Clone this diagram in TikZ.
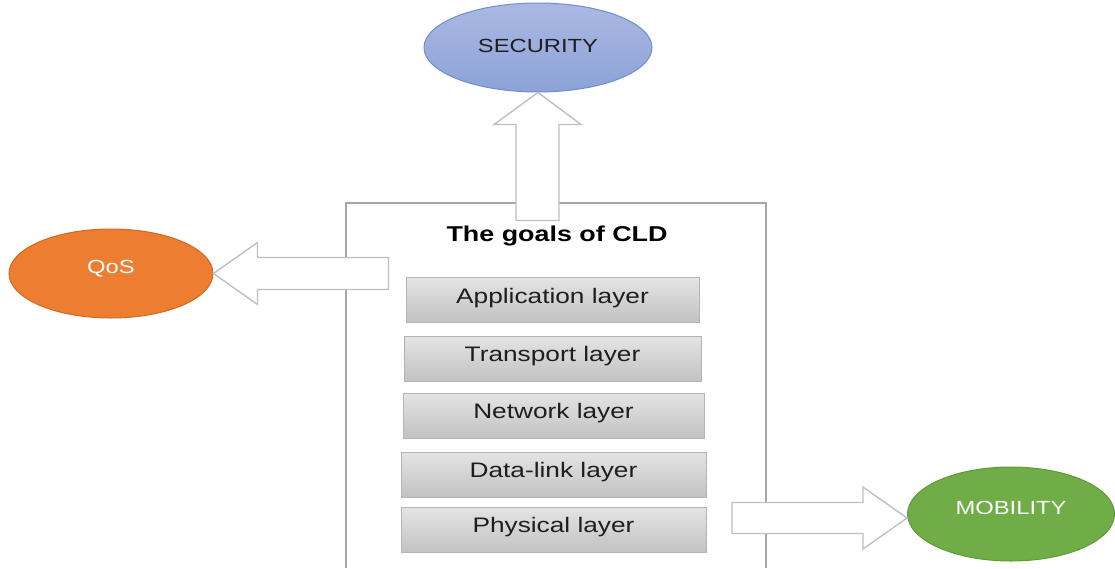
\documentclass[tikz,border=0pt]{standalone}
\usepackage{fontspec}
\setmainfont{Liberation Sans}[FakeStretch=1.25]
\usetikzlibrary{shapes.geometric,calc}
\definecolor{boxline}{HTML}{A6A6A6}
\definecolor{arrline}{HTML}{BFBFBF}
\definecolor{layline}{HTML}{B4B4B4}
\definecolor{laytop}{HTML}{E4E4E4}
\definecolor{laybot}{HTML}{C2C2C2}
\definecolor{sectop}{HTML}{AAB9E3}
\definecolor{secbot}{HTML}{8CA2D7}
\definecolor{secline}{HTML}{6F8ED0}
\definecolor{qosfill}{HTML}{ED7D31}
\definecolor{qosline}{HTML}{D2691F}
\definecolor{mobfill}{HTML}{70AD47}
\definecolor{mobline}{HTML}{5E9A3A}
\definecolor{txt}{HTML}{1E1E1E}
\begin{document}
\begin{tikzpicture}[x=1pt,y=-1pt,
  goal/.style={ellipse, inner sep=0pt, line width=1pt, text height=10pt, text depth=10pt,
    font=\fontsize{19}{22}\selectfont},
  layerbox/.style={rectangle, draw=layline, line width=1pt, top color=laytop, bottom color=laybot,
    inner sep=0pt, text height=14pt, text depth=8pt, text=txt, font=\fontsize{21}{25}\selectfont},
  fatarrow/.style={draw=arrline, fill=white, line width=1.4pt, line join=miter},
  frame/.style={draw=boxline, line width=1.2pt}]
\useasboundingbox (0,0) rectangle (1115,568);

% outer frame (open at bottom)
\draw[frame] (346,568) -- (346,203) -- (766,203) -- (766,568);

% goal ellipses
\node[goal, minimum width=228pt, minimum height=89pt, draw=secline, top color=sectop, bottom color=secbot,
  text height=15pt, text depth=5pt, text=txt] (sec) at (538,47.5) {SECURITY};
\node[goal, minimum width=204pt, minimum height=89pt, draw=qosline, fill=qosfill, text=white] (qos) at (111,273.5) {QoS};
\node[goal, minimum width=207pt, minimum height=94pt, draw=mobline, fill=mobfill, text=white] (mob) at (1011,514) {MOBILITY};

% title
\node[anchor=base, inner sep=0pt, font=\fontsize{21.5}{25}\selectfont\bfseries, text=black] (title) at (557,241) {The goals of CLD};

% layers
\node[layerbox, minimum width=293pt, minimum height=45pt] (app) at (552.5,300) {Application layer};
\node[layerbox, minimum width=297pt, minimum height=45pt] (trans) at (552.5,358.5) {Transport layer};
\node[layerbox, minimum width=301pt, minimum height=45pt] (net) at (553.5,415.5) {Network layer};
\node[layerbox, minimum width=305pt, minimum height=45pt] (data) at (553.5,474.5) {Data-link layer};
\node[layerbox, minimum width=305pt, minimum height=45pt] (phys) at (553.5,529.5) {Physical layer};

% block arrows
\draw[fatarrow] (sec.south) -- ++(43,32) -- ++(-22,0) -- ++(0,96) -- ++(-43,0) -- ++(0,-96) -- ++(-22,0) -- cycle;
\draw[fatarrow] (qos.east) -- ++(44,-31) -- ++(0,15) -- ++(131,0) -- ++(0,32) -- ++(-131,0) -- ++(0,15) -- cycle;
\coordinate (mtip) at ($(mob.west)+(0,4)$);
\draw[fatarrow] (mtip) -- ++(-44,-31) -- ++(0,15.5) -- ++(-131,0) -- ++(0,31) -- ++(131,0) -- ++(0,15.5) -- cycle;
\end{tikzpicture}
\end{document}
